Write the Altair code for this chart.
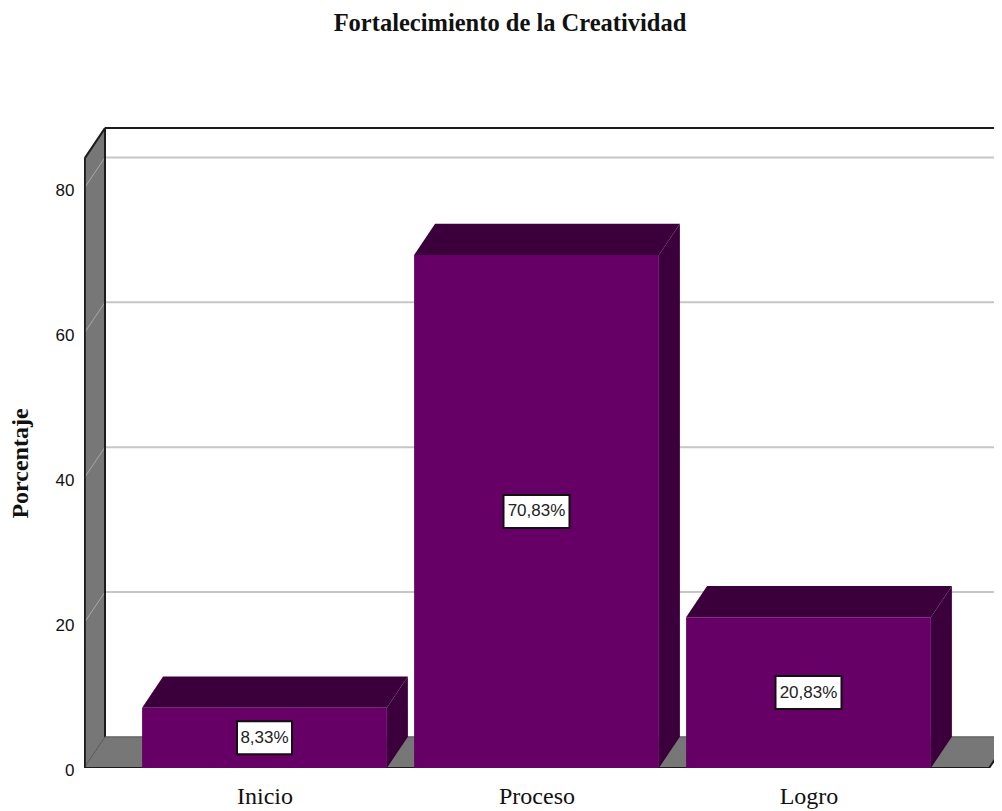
import altair as alt
import pandas as pd

categories = ["Inicio", "Proceso", "Logro"]
values = [8.33, 70.83, 20.83]
value_labels = ["8,33%", "70,83%", "20,83%"]
label_widths = [55, 66, 66]
y_ticks = [0, 20, 40, 60, 80]

Y_MAX = 88.5
X_MIN, X_MAX = -0.6636, 2.682
BAR = 0.9
DX = 0.0772
DY = 4.3
WALL_X = X_MIN
FLOOR_END = 2.664
FRONT_TOP = Y_MAX - DY

PURPLE = "#660066"
DARK = "#3b003b"
GRAY = "#777777"
EDGE = "#1c1c1c"
SANS = "Liberation Sans"
SERIF = "Liberation Serif"

xs = alt.Scale(domain=[X_MIN, X_MAX], nice=False, zero=False)
ys = alt.Scale(domain=[0, Y_MAX], nice=False, zero=False)

label_expr = "[" + ",".join(f"'{c}'" for c in categories) + "][datum.value]"
x_axis = alt.Axis(
    values=[0, 1, 2], labelExpr=label_expr, domain=False, ticks=False, grid=False,
    labelFont=SERIF, labelFontSize=24, labelColor="#111111", labelPadding=16,
    labelFlush=False, labelOverlap=False, title=None)
y_axis = alt.Axis(
    values=y_ticks, domain=False, ticks=False, grid=False,
    labelFont=SANS, labelFontSize=17, labelColor="#111111", labelPadding=10,
    labelOffset=2, format="d", title="Porcentaje",
    titleFont=SERIF, titleFontSize=24, titleFontWeight="bold", titleColor="#111111",
    titleX=-52, titleY=336)


def X(f):
    return alt.X(f, scale=xs, axis=x_axis)


def Y(f):
    return alt.Y(f, scale=ys, axis=y_axis)


def area_poly(points, color):
    df = pd.DataFrame(points, columns=["x", "lo", "hi"])
    return alt.Chart(df).mark_area(color=color, clip=True, line=False).encode(
        x=X("x:Q"), y=Y("lo:Q"), y2="hi:Q",
    )


def slab(x0, x1, v, color):
    return area_poly(
        [(x0, v, v), (x0 + DX, v, v + DY), (x1, v, v + DY), (x1 + DX, v + DY, v + DY)],
        color,
    )


def side(x0, v, color):
    return area_poly([(x0, 0, v), (x0 + DX, DY, v + DY)], color)


def segs(rows, color, width):
    df = pd.DataFrame(rows, columns=["x", "x2", "y", "y2"])
    return alt.Chart(df).mark_rule(color=color, strokeWidth=width, clip=True).encode(
        x=X("x:Q"), x2="x2:Q", y=Y("y:Q"), y2="y2:Q",
    )


layers = []

# walls and floor
layers.append(side(WALL_X, FRONT_TOP, GRAY))
layers.append(slab(WALL_X, FLOOR_END, 0, GRAY))

# gridlines
layers.append(segs([(WALL_X + DX, X_MAX, t + DY, t + DY) for t in y_ticks[1:]], "#c6c6c6", 2))
layers.append(segs([(WALL_X, WALL_X + DX, t, t + DY) for t in y_ticks[1:]], "#a8a8a8", 1))
layers.append(segs([(WALL_X, WALL_X + DX, 0, DY), (WALL_X + DX, X_MAX, DY, DY)], "#555555", 1))

# frame edges
layers.append(segs([
    (WALL_X + 0.003, WALL_X + 0.003, 0, FRONT_TOP),
    (WALL_X + 0.003, WALL_X + DX, FRONT_TOP, Y_MAX - 0.15),
    (WALL_X + DX, WALL_X + DX, DY, Y_MAX - 0.15),
    (WALL_X + DX, X_MAX, Y_MAX - 0.15, Y_MAX - 0.15),
    (WALL_X, FLOOR_END, 0, 0),
    (FLOOR_END, FLOOR_END + DX, 0, DY),
], EDGE, 2))

# bars
for i, v in enumerate(values):
    x0, x1 = i - BAR / 2, i + BAR / 2
    layers.append(slab(x0, x1, v, DARK))
    layers.append(side(x1, v, DARK))
    df = pd.DataFrame({"x": [x0], "x2": [x1], "y": [v]})
    layers.append(
        alt.Chart(df).mark_rect(color=PURPLE).encode(
            x=X("x:Q"), x2="x2:Q", y=Y("y:Q"), y2=alt.datum(0),
        )
    )

# value labels
for i, (v, lab, w) in enumerate(zip(values, value_labels, label_widths)):
    df = pd.DataFrame({"x": [i], "y": [v / 2], "t": [lab]})
    layers.append(alt.Chart(df).mark_rect(
        width=w, height=33, fill="white", stroke="#111111", strokeWidth=2).encode(
        x=X("x:Q"), y=Y("y:Q")))
    layers.append(alt.Chart(df).mark_text(
        font=SANS, fontSize=17, color="#222222", align="center", baseline="middle").encode(
        text="t:N", x=X("x:Q"), y=Y("y:Q")))

chart = alt.layer(*layers).resolve_scale(x="shared", y="shared").properties(
    width=910,
    height=641,
    padding={"left": 76, "top": 119, "right": 0, "bottom": 43},
    autosize=alt.AutoSizeParams(type="none"),
    background="white",
    title=alt.TitleParams(
        "Fortalecimiento de la Creatividad",
        font=SERIF, fontSize=24.5, fontWeight="bold", color="#111111",
        anchor="middle", dx=-29, offset=91,
    ),
).configure_view(stroke=None)

chart.save("out.html", embed_options={"renderer": "svg", "actions": False})
